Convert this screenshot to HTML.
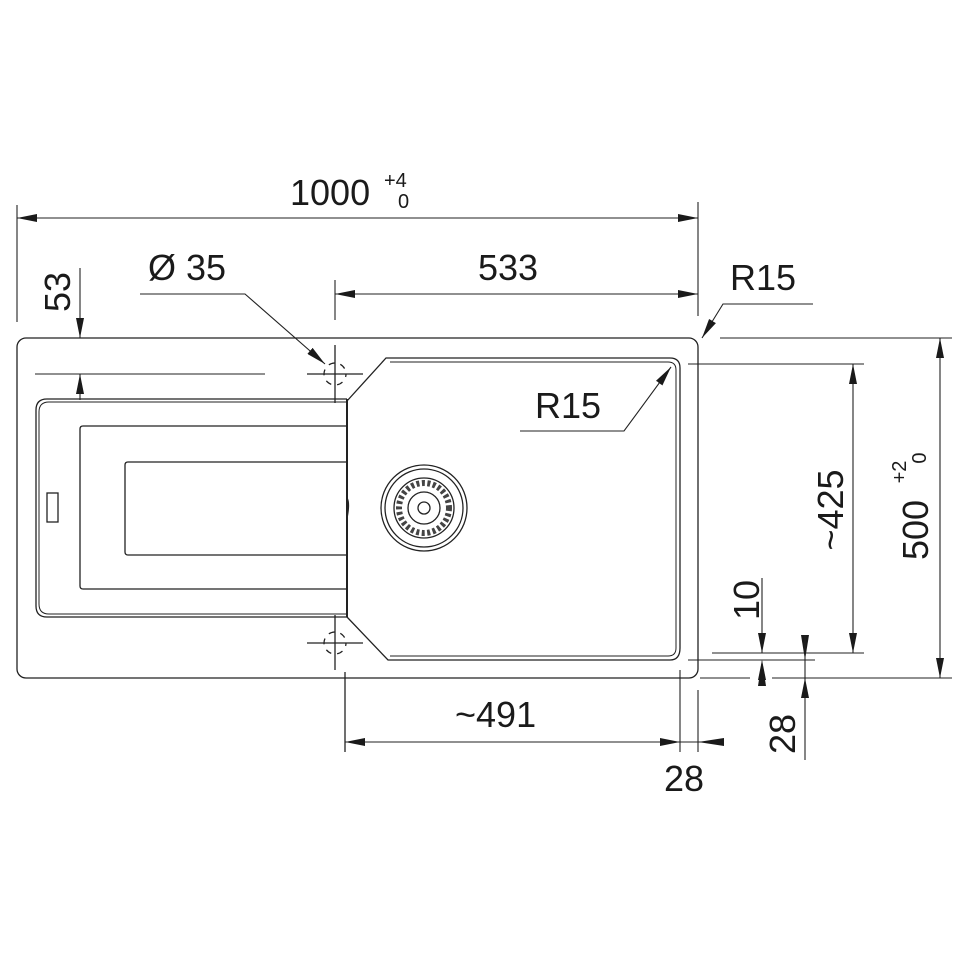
<!DOCTYPE html>
<html><head><meta charset="utf-8"><style>
html,body{margin:0;padding:0;background:#fff;}
svg{display:block}
text{font-family:"Liberation Sans",sans-serif;fill:#1a1a1a}
</style></head><body>
<svg width="960" height="960" viewBox="0 0 960 960" xmlns="http://www.w3.org/2000/svg">
<defs>
<marker id="a" viewBox="0 0 20 8" refX="20" refY="4" markerWidth="20" markerHeight="8" markerUnits="userSpaceOnUse" orient="auto-start-reverse"><path d="M0,0 L20,4 L0,8 z" fill="#1a1a1a"/></marker>
</defs>
<g stroke="#222" stroke-width="1.3" fill="none">
<!-- outer sink -->
<rect x="17" y="338" width="681" height="340" rx="9"/>
<!-- drainer -->
<path d="M347,399 H47 Q36,399 36,410 V606 Q36,617 47,617 H347"/>
<path d="M347,402 H49 Q39,402 39,412 V604 Q39,614 49,614 H347" stroke-width="1"/>
<line x1="347" y1="399" x2="347" y2="617" stroke-width="2"/>
<path d="M347,426 H83 Q80,426 80,429 V586 Q80,589 83,589 H347"/>
<path d="M347,462 H128 Q125,462 125,465 V552 Q125,555 128,555 H347"/>
<rect x="47" y="493" width="11" height="29"/>
<path d="M347,498 q3,5 0,20" />
<!-- main bowl -->
<path d="M347,401 L386,358 H670 Q680,358 680,368 V648 Q680,660 670,660 H388 L347,617"/>
<path d="M390,362 H668 Q676,362 676,370 V648 Q676,656 668,656 H390" stroke-width="1"/>
<!-- drain -->
<circle cx="424" cy="508" r="43"/>
<circle cx="424" cy="508" r="39"/>
<circle cx="424" cy="508" r="30"/>
<circle cx="424" cy="508" r="25" stroke-dasharray="3 2.5" stroke-width="6" stroke="#444"/>
<circle cx="424" cy="508" r="16"/>
<circle cx="424" cy="508" r="6"/>
<!-- crosshairs -->
<line x1="335" y1="345" x2="335" y2="403"/><line x1="307" y1="374" x2="363" y2="374"/>
<circle cx="335" cy="374" r="11" stroke-dasharray="6 6" stroke-dashoffset="3"/>
<line x1="335" y1="615" x2="335" y2="670"/><line x1="307" y1="643" x2="363" y2="643"/>
<circle cx="335" cy="643" r="11" stroke-dasharray="6 6" stroke-dashoffset="3"/>
<line x1="345" y1="672" x2="345" y2="752"/>
</g>
<g stroke="#222" stroke-width="1.1" fill="none">
<!-- 1000 -->
<line x1="17" y1="205" x2="17" y2="322"/>
<line x1="698" y1="202" x2="698" y2="316"/>
<line x1="17" y1="218" x2="698" y2="218" marker-start="url(#a)" marker-end="url(#a)"/>
<!-- 533 -->
<line x1="335" y1="280" x2="335" y2="320"/>
<line x1="335" y1="294" x2="698" y2="294" marker-start="url(#a)" marker-end="url(#a)"/>
<!-- 53 -->
<line x1="80" y1="268" x2="80" y2="338" marker-end="url(#a)"/>
<line x1="80" y1="400" x2="80" y2="374" marker-end="url(#a)"/>
<line x1="35" y1="374" x2="265" y2="374"/>
<!-- Ø35 leader -->
<polyline points="140,294 245,294 325,364" marker-end="url(#a)"/>
<!-- R15 outer -->
<polyline points="813,304 723,304 702,338" marker-end="url(#a)"/>
<!-- R15 inner -->
<polyline points="520,431 624,431 671,367" marker-end="url(#a)"/>
<!-- right side -->
<line x1="720" y1="338" x2="952" y2="338"/>
<line x1="940" y1="338" x2="940" y2="678" marker-start="url(#a)" marker-end="url(#a)"/>
<line x1="688" y1="364" x2="864" y2="364"/>
<line x1="853" y1="364" x2="853" y2="653" marker-start="url(#a)" marker-end="url(#a)"/>
<line x1="712" y1="653" x2="864" y2="653"/>
<line x1="688" y1="660" x2="815" y2="660"/>
<line x1="700" y1="678" x2="750" y2="678"/>
<line x1="772" y1="678" x2="952" y2="678"/>
<!-- 10 -->
<line x1="762" y1="578" x2="762" y2="653" marker-end="url(#a)"/>
<line x1="762" y1="686" x2="762" y2="660" marker-end="url(#a)" stroke-width="0"/>
<path d="M758,686 L762,660 L766,686 Z" fill="#1a1a1a" stroke="none"/>
<!-- 28 vertical -->
<path d="M801,635 L805,660 L809,635 Z" fill="#1a1a1a" stroke="none"/>
<line x1="805" y1="635" x2="805" y2="678"/>
<line x1="805" y1="760" x2="805" y2="678" marker-end="url(#a)"/>
<!-- ~491 -->
<line x1="680" y1="670" x2="680" y2="752"/>
<line x1="698" y1="690" x2="698" y2="752"/>
<line x1="345" y1="742" x2="680" y2="742" marker-start="url(#a)" marker-end="url(#a)"/>
<line x1="680" y1="742" x2="724" y2="742"/>
<path d="M724,738 L698,742 L724,746 Z" fill="#1a1a1a" stroke="none"/>
</g>
<!-- texts -->
<text x="290" y="205" font-size="36">1000</text>
<text x="384" y="187" font-size="20">+4</text>
<text x="398" y="208" font-size="20">0</text>
<text x="148" y="280" font-size="36">Ø 35</text>
<text x="478" y="280" font-size="36">533</text>
<text x="730" y="290" font-size="36">R15</text>
<text x="535" y="418" font-size="36">R15</text>
<text x="455" y="727" font-size="36">~491</text>
<text x="664" y="791" font-size="36">28</text>
<text transform="translate(70,292) rotate(-90)" font-size="36" text-anchor="middle">53</text>
<text transform="translate(759,600) rotate(-90)" font-size="36" text-anchor="middle">10</text>
<text transform="translate(795,734) rotate(-90)" font-size="36" text-anchor="middle">28</text>
<text transform="translate(843,510) rotate(-90)" font-size="36" text-anchor="middle">~425</text>
<text transform="translate(928,530) rotate(-90)" font-size="36" text-anchor="middle">500</text>
<text transform="translate(906,472) rotate(-90)" font-size="20" text-anchor="middle">+2</text>
<text transform="translate(926,458) rotate(-90)" font-size="20" text-anchor="middle">0</text>
</svg>
</body></html>
